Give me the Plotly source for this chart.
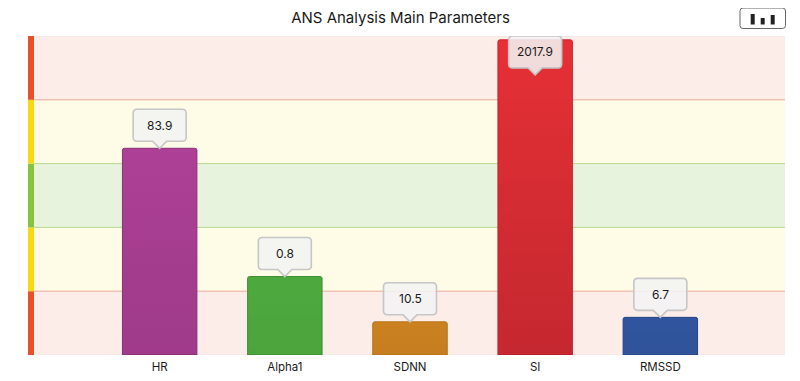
import plotly.graph_objects as go

categories = ["HR", "Alpha1", "SDNN", "SI", "RMSSD"]
value_labels = ["83.9", "0.8", "10.5", "2017.9", "6.7"]
zone_scores = [3.24, 1.23, 0.52, 4.94, 0.59]
positions = [1, 2, 3, 4, 5]
bar_colors = ["#ad4096", "#4da93e", "#cb8120", "#e63036", "#30559e"]
bar_edges = ["#8c2f78", "#3f8f33", "#b87318", "#c4262c", "#244486"]
shade_strength = [0.1, 0.03, 0.03, 0.17, 0.03]
zone_edges = [0, 1, 2, 3, 4, 5]
zone_fills = ["#fcede9", "#fefbe6", "#e7f3dc", "#fefbe6", "#fcede9"]
zone_strips = ["#e8502a", "#f7d90f", "#86c440", "#f7d90f", "#e8502a"]
zone_lines = ["#eda99c", "#b5d98f", "#b5d98f", "#eda99c"]

TOOLTIP_MAX = 4.39
FONT = "Inter, Roboto, sans-serif"
STRIP = 6 / 751

fig = go.Figure()
fig.add_trace(go.Bar(
    x=positions, y=zone_scores, width=0.595,
    marker=dict(color=bar_colors, line=dict(color=bar_edges, width=1), cornerradius=2),
    hoverinfo="skip", showlegend=False,
))
# Vertical shading on each bar
for p, v, a in zip(positions, zone_scores, shade_strength):
    fig.add_trace(go.Scatter(
        x=[p - 0.295, p + 0.295, p + 0.295, p - 0.295, p - 0.295],
        y=[0, 0, v * 0.995, v * 0.995, 0],
        mode="lines", line=dict(width=0), fill="toself",
        fillgradient=dict(type="vertical", colorscale=[[0, f"rgba(40,0,20,{a})"], [1, "rgba(0,0,0,0)"]]),
        hoverinfo="skip", showlegend=False,
    ))

shapes = []
for i, (fill, strip) in enumerate(zip(zone_fills, zone_strips)):
    y0, y1 = zone_edges[i], zone_edges[i + 1]
    shapes.append(dict(type="rect", xref="x domain", yref="y", x0=0, x1=1, y0=y0, y1=y1,
                       fillcolor=fill, line_width=0, layer="below"))
    shapes.append(dict(type="rect", xref="paper", yref="y", x0=-STRIP, x1=0, y0=y0, y1=y1,
                       fillcolor=strip, line_width=0, layer="below"))
for e, c in zip(zone_edges[1:-1], zone_lines):
    shapes.append(dict(type="line", xref="x domain", yref="y", x0=0, x1=1, y0=e, y1=e,
                       line=dict(color=c, width=1), layer="below"))
for e in (zone_edges[0], zone_edges[-1]):
    shapes.append(dict(type="line", xref="x domain", yref="y", x0=0, x1=1, y0=e, y1=e,
                       line=dict(color="#eee6e2", width=1), layer="below"))

# Callout outline, in pixels above its tip
CALLOUT = ("M -22.5 39 Q -26.5 39 -26.5 35 L -26.5 11 Q -26.5 7 -22.5 7 L -7 7 L 0 0 L 7 7 "
           "L 22.5 7 Q 26.5 7 26.5 11 L 26.5 35 Q 26.5 39 22.5 39 Z")
annotations = []
for p, v, t in zip(positions, zone_scores, value_labels):
    anchor = min(v, TOOLTIP_MAX)
    shapes.append(dict(type="path", xref="x", yref="y", xsizemode="pixel", ysizemode="pixel",
                       xanchor=p, yanchor=anchor, path=CALLOUT,
                       fillcolor="rgba(242,242,242,0.88)", line=dict(color="#c6c6c6", width=1.6), layer="above"))
    annotations.append(dict(x=p, y=anchor, xref="x", yref="y", text=t, showarrow=False,
                            yanchor="middle", yshift=23, font=dict(family=FONT, size=12, color="#1a1a1a")))

# Chart-type button, top right (pixels relative to the plot's top-right corner)
shapes.append(dict(type="path", xref="paper", yref="paper", xsizemode="pixel", ysizemode="pixel",
                   xanchor=1, yanchor=1,
                   path="M -42 28 Q -45 28 -45 25 L -45 10.5 Q -45 7.5 -42 7.5 L -2.5 7.5 Q 0.5 7.5 0.5 10.5 L 0.5 25 Q 0.5 28 -2.5 28 Z",
                   fillcolor="white", line=dict(color="#666666", width=1), layer="above"))
for x0, x1, top in [(-34.3, -30.3, 22), (-24.3, -20.3, 18), (-14.3, -10.3, 21)]:
    shapes.append(dict(type="path", xref="paper", yref="paper", xsizemode="pixel", ysizemode="pixel",
                       xanchor=1, yanchor=1,
                       path=f"M {x0} 11.5 L {x1} 11.5 L {x1} {top} L {x0} {top} Z",
                       fillcolor="#222222", line_width=0, layer="above"))

fig.update_layout(
    width=792, height=373, autosize=False,
    margin=dict(l=26, r=15, t=27.5, b=26),
    paper_bgcolor="white", plot_bgcolor="white",
    title=dict(text="ANS Analysis Main Parameters", x=392.5 / 792, xanchor="center", y=1 - 10 / 373, yanchor="middle",
               font=dict(family=FONT, size=15, color="#1a1a1a")),
    xaxis=dict(range=[-0.004, 5.996], tickvals=positions, ticktext=categories, showgrid=False, zeroline=False,
               showline=False, ticks="", ticklabelstandoff=3, automargin=False,
               tickfont=dict(family=FONT, size=11.5, color="#1a1a1a")),
    yaxis=dict(range=[0, 5], visible=False, showgrid=False, zeroline=False, automargin=False),
    shapes=shapes, annotations=annotations, bargap=0.4,
)
fig.write_html("out.html")
